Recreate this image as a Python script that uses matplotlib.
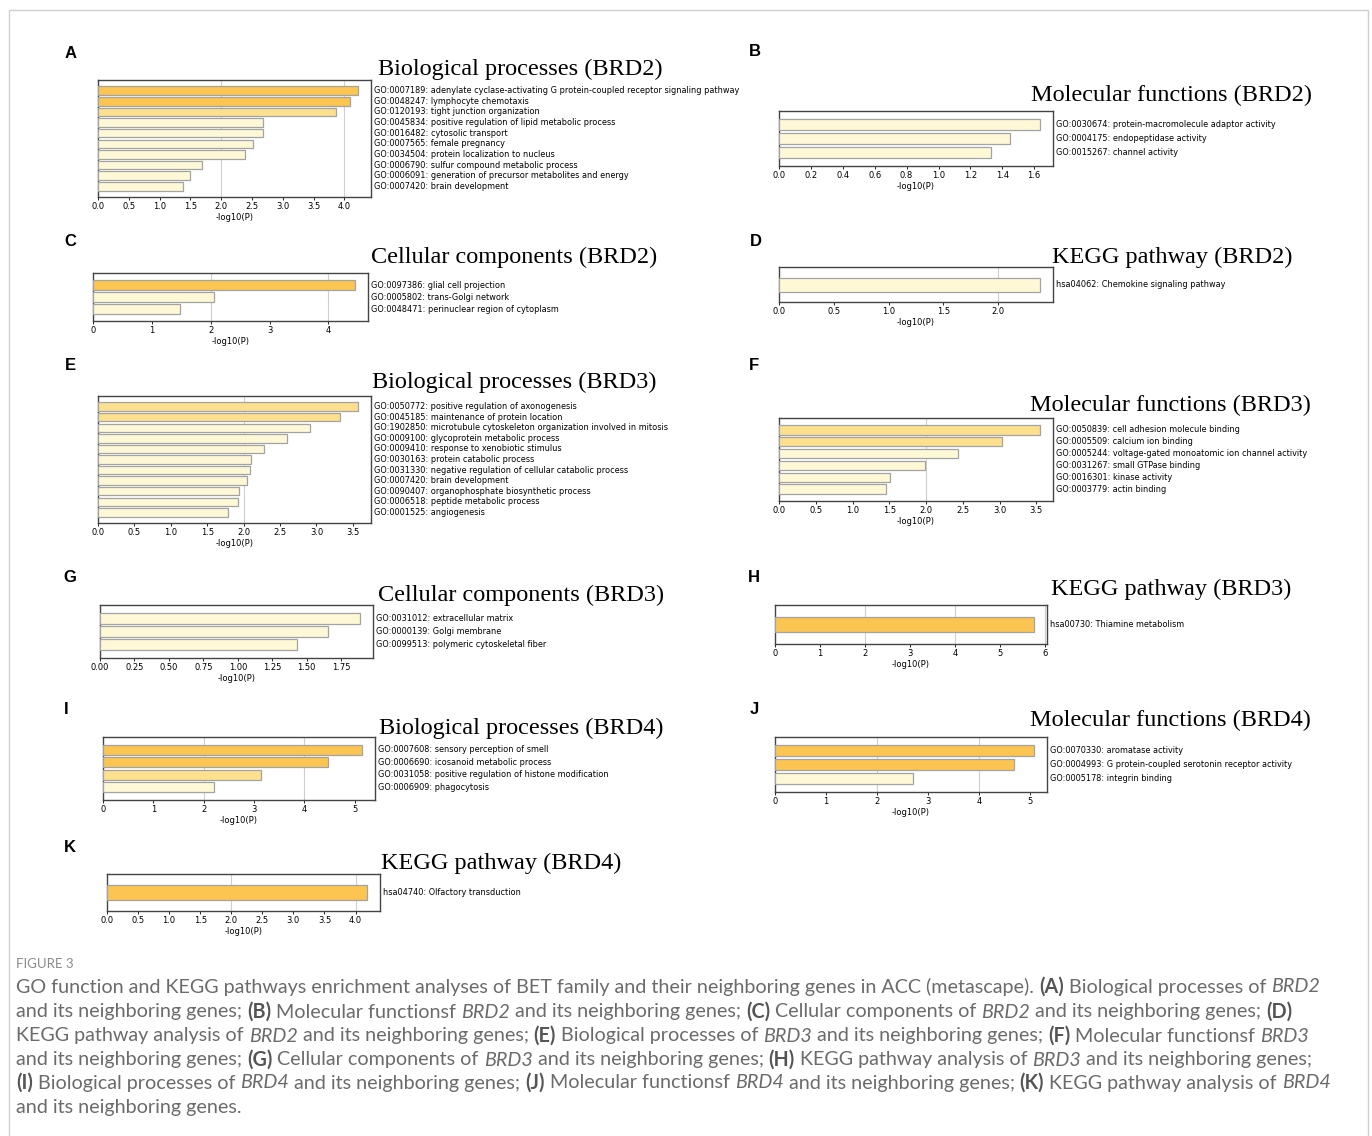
import matplotlib
matplotlib.use('Agg')
import matplotlib.pyplot as plt
from matplotlib.ticker import MultipleLocator
from matplotlib.patches import Rectangle
import numpy as np

W, H = 1372, 1136

# ---- data ----
bp2_terms = ['GO:0007189: adenylate cyclase-activating G protein-coupled receptor signaling pathway',
             'GO:0048247: lymphocyte chemotaxis',
             'GO:0120193: tight junction organization',
             'GO:0045834: positive regulation of lipid metabolic process',
             'GO:0016482: cytosolic transport',
             'GO:0007565: female pregnancy',
             'GO:0034504: protein localization to nucleus',
             'GO:0006790: sulfur compound metabolic process',
             'GO:0006091: generation of precursor metabolites and energy',
             'GO:0007420: brain development']
bp2_vals = [4.22, 4.09, 3.87, 2.68, 2.67, 2.51, 2.39, 1.68, 1.49, 1.38]

mf2_terms = ['GO:0030674: protein-macromolecule adaptor activity',
             'GO:0004175: endopeptidase activity',
             'GO:0015267: channel activity']
mf2_vals = [1.636, 1.449, 1.328]

cc2_terms = ['GO:0097386: glial cell projection',
             'GO:0005802: trans-Golgi network',
             'GO:0048471: perinuclear region of cytoplasm']
cc2_vals = [4.45, 2.05, 1.48]

kegg2_terms = ['hsa04062: Chemokine signaling pathway']
kegg2_vals = [2.38]

bp3_terms = ['GO:0050772: positive regulation of axonogenesis',
             'GO:0045185: maintenance of protein location',
             'GO:1902850: microtubule cytoskeleton organization involved in mitosis',
             'GO:0009100: glycoprotein metabolic process',
             'GO:0009410: response to xenobiotic stimulus',
             'GO:0030163: protein catabolic process',
             'GO:0031330: negative regulation of cellular catabolic process',
             'GO:0007420: brain development',
             'GO:0090407: organophosphate biosynthetic process',
             'GO:0006518: peptide metabolic process',
             'GO:0001525: angiogenesis']
bp3_vals = [3.57, 3.32, 2.91, 2.59, 2.28, 2.10, 2.09, 2.045, 1.93, 1.925, 1.78]

mf3_terms = ['GO:0050839: cell adhesion molecule binding',
             'GO:0005509: calcium ion binding',
             'GO:0005244: voltage-gated monoatomic ion channel activity',
             'GO:0031267: small GTPase binding',
             'GO:0016301: kinase activity',
             'GO:0003779: actin binding']
mf3_vals = [3.55, 3.03, 2.43, 1.98, 1.51, 1.46]

cc3_terms = ['GO:0031012: extracellular matrix',
             'GO:0000139: Golgi membrane',
             'GO:0099513: polymeric cytoskeletal fiber']
cc3_vals = [1.887, 1.654, 1.432]

kegg3_terms = ['hsa00730: Thiamine metabolism']
kegg3_vals = [5.76]

bp4_terms = ['GO:0007608: sensory perception of smell',
             'GO:0006690: icosanoid metabolic process',
             'GO:0031058: positive regulation of histone modification',
             'GO:0006909: phagocytosis']
bp4_vals = [5.15, 4.48, 3.15, 2.21]

mf4_terms = ['GO:0070330: aromatase activity',
             'GO:0004993: G protein-coupled serotonin receptor activity',
             'GO:0005178: integrin binding']
mf4_vals = [5.08, 4.68, 2.71]

kegg4_terms = ['hsa04740: Olfactory transduction']
kegg4_vals = [4.185]


def bar_color(v):
    if v >= 4:
        return '#fcc551'
    if v >= 3:
        return '#fde08e'
    return '#fef8d6'


def make_panel(fig, box, terms, vals, title, title_xy, letter, letter_xy, step):
    l, t, r, b = box
    ax = fig.add_axes([l / W, 1 - b / H, (r - l) / W, (b - t) / H])
    n = len(vals)
    y = np.arange(n)
    xmax = max(vals) * 1.05
    ax.barh(y, vals, height=0.8, color=[bar_color(v) for v in vals],
            edgecolor='#a3a3a3', linewidth=0.9, zorder=3)
    for g in np.arange(2, xmax, 2):
        ax.axvline(g, color='#cfcfcf', lw=0.8, zorder=1)
    ax.set_xlim(0, xmax)
    ax.set_ylim(n, -1)
    ax.set_yticks([])
    ax.xaxis.set_major_locator(MultipleLocator(step))
    ax.tick_params(axis='x', labelsize=6.0, length=2, width=0.6, pad=1.5)
    ax.set_xlabel('-log10(P)', fontsize=6.0, labelpad=1.5)
    for s in ax.spines.values():
        s.set_color('#444444')
        s.set_linewidth(1.0)
    for i, term in enumerate(terms):
        ax.annotate(term, xy=(1, i), xycoords=('axes fraction', 'data'),
                    xytext=(2.5, 0), textcoords='offset points',
                    va='center', ha='left', fontsize=5.85)
    fig.text(title_xy[0] / W, 1 - title_xy[1] / H, title, ha='left', va='center',
             fontsize=17.5, family='Liberation Serif')
    fig.text(letter_xy[0] / W, 1 - letter_xy[1] / H, letter, ha='center', va='center',
             fontsize=12, fontweight='bold', family='Liberation Sans')
    return ax


fig = plt.figure(figsize=(W / 100, H / 100), dpi=100)
fig.patches.append(Rectangle((9 / W, -0.01), 1359 / W, 1 - 10 / H + 0.01,
                             transform=fig.transFigure, fill=False,
                             edgecolor='#d0d0d0', lw=1.0))

make_panel(fig, (98, 80, 371, 197), bp2_terms, bp2_vals, 'Biological processes (BRD2)', (378, 69), 'A', (71, 53), 0.5)
make_panel(fig, (779, 111, 1053, 166), mf2_terms, mf2_vals, 'Molecular functions (BRD2)', (1031, 95), 'B', (755, 52), 0.2)
make_panel(fig, (93, 273, 368, 321), cc2_terms, cc2_vals, 'Cellular components (BRD2)', (371, 257), 'C', (70, 242), 1)
make_panel(fig, (779, 267, 1053, 302), kegg2_terms, kegg2_vals, 'KEGG pathway (BRD2)', (1052, 257), 'D', (756, 242), 0.5)
make_panel(fig, (98, 396, 371, 523), bp3_terms, bp3_vals, 'Biological processes (BRD3)', (372, 382), 'E', (70, 366), 0.5)
make_panel(fig, (779, 418, 1053, 501), mf3_terms, mf3_vals, 'Molecular functions (BRD3)', (1030, 405), 'F', (754, 366), 0.5)
make_panel(fig, (100, 605, 373, 658), cc3_terms, cc3_vals, 'Cellular components (BRD3)', (378, 595), 'G', (70, 578), 0.25)
make_panel(fig, (775, 605, 1047, 644), kegg3_terms, kegg3_vals, 'KEGG pathway (BRD3)', (1051, 589), 'H', (754, 578), 1)
make_panel(fig, (103, 737, 375, 800), bp4_terms, bp4_vals, 'Biological processes (BRD4)', (379, 728), 'I', (66, 709), 1)
make_panel(fig, (775, 737, 1047, 792), mf4_terms, mf4_vals, 'Molecular functions (BRD4)', (1030, 720), 'J', (754, 709), 1)
make_panel(fig, (107, 874, 380, 911), kegg4_terms, kegg4_vals, 'KEGG pathway (BRD4)', (381, 863), 'K', (70, 848), 0.5)

# ---- caption ----
N, B, I = 'n', 'b', 'i'
cap_lines = [
    [('GO function and KEGG pathways enrichment analyses of BET family and their neighboring genes in ACC (metascape). ', N),
     ('(A)', B), (' Biological processes of ', N), ('BRD2', I)],
    [('and its neighboring genes; ', N), ('(B)', B), (' Molecular functionsf ', N), ('BRD2', I),
     (' and its neighboring genes; ', N), ('(C)', B), (' Cellular components of ', N), ('BRD2', I),
     (' and its neighboring genes; ', N), ('(D)', B)],
    [('KEGG pathway analysis of ', N), ('BRD2', I), (' and its neighboring genes; ', N), ('(E)', B),
     (' Biological processes of ', N), ('BRD3', I), (' and its neighboring genes; ', N), ('(F)', B),
     (' Molecular functionsf ', N), ('BRD3', I)],
    [('and its neighboring genes; ', N), ('(G)', B), (' Cellular components of ', N), ('BRD3', I),
     (' and its neighboring genes; ', N), ('(H)', B), (' KEGG pathway analysis of ', N), ('BRD3', I),
     (' and its neighboring genes;', N)],
    [('(I)', B), (' Biological processes of ', N), ('BRD4', I), (' and its neighboring genes; ', N),
     ('(J)', B), (' Molecular functionsf ', N), ('BRD4', I), (' and its neighboring genes; ', N),
     ('(K)', B), (' KEGG pathway analysis of ', N), ('BRD4', I)],
    [('and its neighboring genes.', N)],
]
cap_y = [987, 1012, 1036, 1060, 1083, 1107]
cap_x0 = 16
cap_font = 'Lato'

renderer = fig.canvas.get_renderer()


def piece_kw(style, size):
    kw = dict(fontsize=size, family=cap_font, color='#6b6b6b')
    if style == B:
        kw.update(fontweight='bold', color='#555555')
    if style == I:
        kw.update(fontstyle='italic')
    return kw


def piece_width(txt, style, size):
    t1 = fig.text(0, 0, '|' + txt + '|', **piece_kw(style, size))
    t2 = fig.text(0, 0, '||', **piece_kw(style, size))
    w = t1.get_window_extent(renderer).width - t2.get_window_extent(renderer).width
    t1.remove()
    t2.remove()
    return w


# pick the size so the first line spans the same width as in the figure
w10 = sum(piece_width(txt, st, 10) for txt, st in cap_lines[0])
cap_size = 10 * (1322 - cap_x0) / w10

for line, yy in zip(cap_lines, cap_y):
    x = cap_x0
    for txt, st in line:
        fig.text(x / W, 1 - yy / H, txt, ha='left', va='center', **piece_kw(st, cap_size))
        x += piece_width(txt, st, cap_size)

fig.text(cap_x0 / W, 1 - 964 / H, 'FIGURE 3', ha='left', va='center',
         fontsize=9.5, family=cap_font, color='#8a8a8a')

fig.savefig('out.png', dpi=100)
